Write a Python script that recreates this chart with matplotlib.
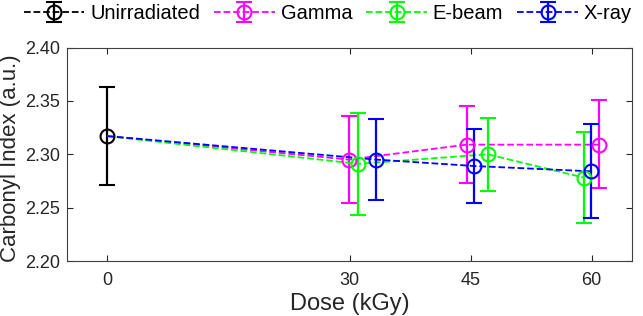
import matplotlib
matplotlib.use('Agg')
import matplotlib.pyplot as plt
import numpy as np

plt.rcParams['font.family'] = ['Arial', 'Liberation Sans', 'DejaVu Sans']

# dados
unirr_x = [0]
unirr_y = [2.317]
unirr_err = [0.046]

gamma_x = [0, 29.9, 44.5, 60.9]
gamma_y = [2.317, 2.295, 2.309, 2.309]
gamma_lo = [0.0, 0.041, 0.036, 0.041]
gamma_hi = [0.0, 0.041, 0.036, 0.042]

ebeam_x = [0, 31.1, 47.1, 59.1]
ebeam_y = [2.317, 2.291, 2.300, 2.278]
ebeam_lo = [0.0, 0.048, 0.034, 0.042]
ebeam_hi = [0.0, 0.048, 0.034, 0.043]

xray_x = [0, 33.3, 45.4, 59.9]
xray_y = [2.317, 2.295, 2.289, 2.284]
xray_lo = [0.0, 0.038, 0.035, 0.044]
xray_hi = [0.0, 0.038, 0.035, 0.044]

xticks = [0, 30, 45, 60]
yticks = [2.20, 2.25, 2.30, 2.35, 2.40]

fig = plt.figure(figsize=(6.43, 3.16), dpi=100)
ax = fig.add_axes([67/643, 1-261/316, 565/643, 213.5/316])

estilo = dict(fmt='o--', markersize=10, markerfacecolor='none', markeredgewidth=1.5,
              elinewidth=1.6, capsize=5.5, capthick=1.6, linewidth=1.3)

ax.errorbar(unirr_x, unirr_y, yerr=unirr_err, color='black', label='Unirradiated', **estilo)

def serie(x, y, lo, hi, cor, nome):
    # linha tracejada desde o ponto 0, barras de erro so nos pontos irradiados
    ax.plot(x, y, '--', color=cor, linewidth=1.3)
    ax.errorbar(x[1:], y[1:], yerr=[lo[1:], hi[1:]], color=cor, fmt='o',
                markersize=10, markerfacecolor='none', markeredgewidth=1.5,
                elinewidth=1.6, capsize=5.5, capthick=1.6)
    # entrada da legenda
    ax.errorbar([np.nan], [np.nan], yerr=[0.01], color=cor, label=nome, **estilo)

serie(gamma_x, gamma_y, gamma_lo, gamma_hi, '#ff00ff', 'Gamma')
serie(ebeam_x, ebeam_y, ebeam_lo, ebeam_hi, '#00ff00', 'E-beam')
serie(xray_x, xray_y, xray_lo, xray_hi, '#0000ff', 'X-ray')

ax.set_xlim(-5, 65)
ax.set_ylim(2.20, 2.40)
ax.set_xticks(xticks)
ax.set_yticks(yticks)
ax.set_yticklabels(['%.2f' % v for v in yticks])
ax.tick_params(direction='in', top=True, right=True, labelsize=13, colors='#262626',
               length=4, pad=5)
ax.tick_params(axis='x', pad=8)
for s in ax.spines.values():
    s.set_color('#404040')
ax.set_xlabel('Dose (kGy)', fontsize=17, color='#262626', labelpad=3)
ax.set_ylabel('Carbonyl Index (a.u.)', fontsize=16, color='#262626')
ax.yaxis.set_label_coords(-0.081, 0.48)

fig.legend(*ax.get_legend_handles_labels(), loc='center', bbox_to_anchor=(0.51, 0.958),
           ncol=4, frameon=False, fontsize=14.5, handlelength=3.0, columnspacing=0.7,
           handletextpad=0.3, borderaxespad=0.0)

fig.savefig('out.png', dpi=100)
